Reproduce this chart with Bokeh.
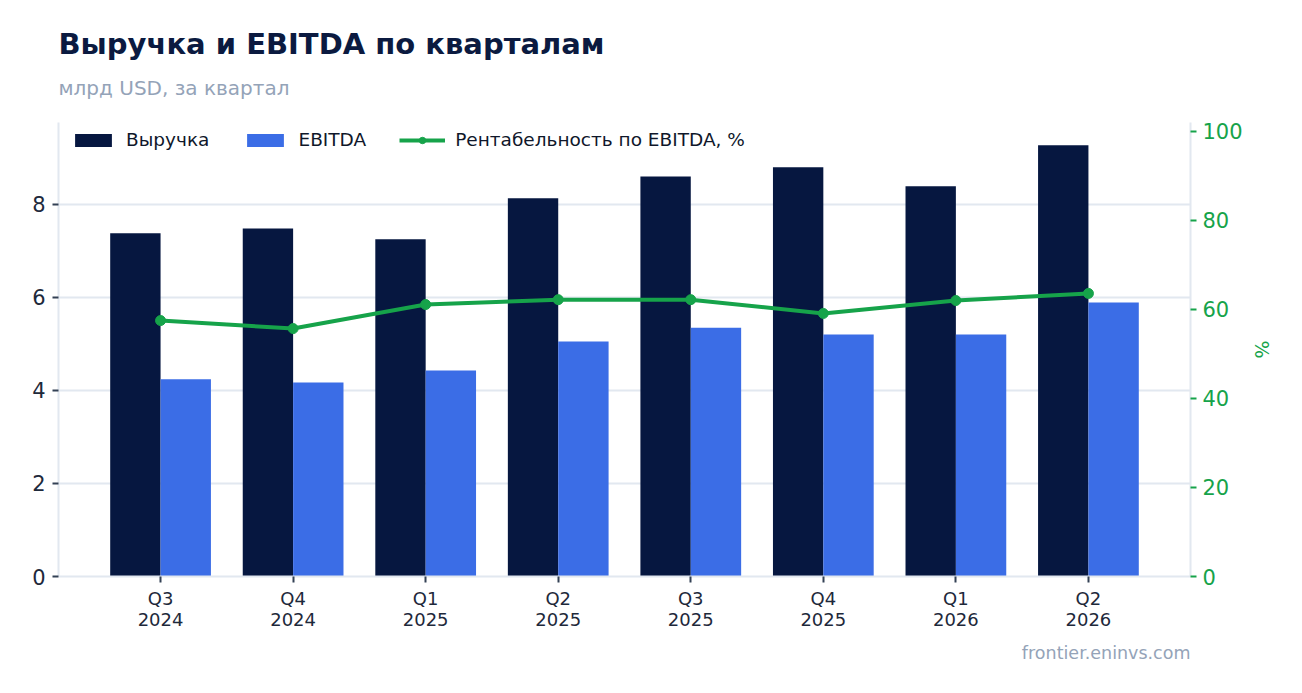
from bokeh.plotting import figure
from bokeh.models import (Range1d, LinearAxis, FixedTicker, Legend, LegendItem,
                          Title, ColumnDataSource)
from bokeh.embed import file_html
from bokeh.resources import INLINE

# ---- data ----
quarters = ["Q3\n2024", "Q4\n2024", "Q1\n2025", "Q2\n2025",
            "Q3\n2025", "Q4\n2025", "Q1\n2026", "Q2\n2026"]
revenue = [7.38, 7.48, 7.25, 8.13, 8.60, 8.80, 8.39, 9.27]
ebitda = [4.24, 4.17, 4.43, 5.05, 5.35, 5.20, 5.20, 5.89]
margin_pct = [57.5, 55.7, 61.1, 62.2, 62.2, 59.1, 62.0, 63.6]

# ---- style ----
FONT = "DejaVu Sans"
C_REV = "#061740"
C_EBITDA = "#3b6de6"
C_GREEN = "#16a34a"
C_GRID = "#e2e8f0"
C_MUTED = "#94a3b8"
C_TEXT = "#1e293b"
C_TITLE = "#0b1a40"

idx = list(range(len(quarters)))
src = ColumnDataSource(dict(
    x=idx,
    x_rev=[i - 0.19 for i in idx],
    x_eb=[i + 0.19 for i in idx],
    rev=revenue, eb=ebitda, m=margin_pct,
))

p = figure(width=1294, height=685, output_backend="svg", toolbar_location=None,
           x_range=Range1d(-0.77, 7.77), y_range=Range1d(0, 9.76),
           min_border_left=58, min_border_right=104,
           min_border_top=122, min_border_bottom=109,
           background_fill_color="white", border_fill_color="white")
p.outline_line_color = None

p.extra_y_ranges = {"pct": Range1d(0, 102)}

# bars
r_rev = p.vbar(x="x_rev", top="rev", width=0.38, source=src,
               fill_color=C_REV, line_color=None)
r_eb = p.vbar(x="x_eb", top="eb", width=0.38, source=src,
              fill_color=C_EBITDA, line_color=None)
# margin line
r_line = p.line(x="x", y="m", source=src, y_range_name="pct",
                line_color=C_GREEN, line_width=4)
r_pts = p.scatter(x="x", y="m", source=src, y_range_name="pct",
                  size=10, fill_color=C_GREEN, line_color=C_GREEN)

# x axis
xa = p.xaxis[0]
xa.ticker = FixedTicker(ticks=idx)
xa.major_label_overrides = {i: q for i, q in zip(idx, quarters)}
xa.axis_line_color = C_GRID
xa.axis_line_width = 2
xa.major_tick_line_color = "#334155"
xa.major_tick_line_width = 2
xa.major_tick_in = 0
xa.major_tick_out = 6
xa.minor_tick_line_color = None
xa.major_label_text_font = FONT
xa.major_label_text_font_size = "18px"
xa.major_label_text_line_height = 1.0
xa.major_label_text_color = C_TEXT
xa.major_label_standoff = 5

# left y axis
ya = p.yaxis[0]
ya.ticker = FixedTicker(ticks=[0, 2, 4, 6, 8])
ya.axis_line_color = C_GRID
ya.axis_line_width = 2
ya.major_tick_line_color = "#334155"
ya.major_tick_line_width = 2
ya.major_tick_in = 0
ya.major_tick_out = 6
ya.minor_tick_line_color = None
ya.major_label_text_font = FONT
ya.major_label_text_font_size = "21px"
ya.major_label_text_color = C_TEXT
ya.major_label_standoff = 7

# right y axis
ra = LinearAxis(y_range_name="pct", ticker=FixedTicker(ticks=[0, 20, 40, 60, 80, 100]),
                axis_label="%")
ra.axis_line_color = C_GRID
ra.axis_line_width = 2
ra.major_tick_line_color = C_GREEN
ra.major_tick_line_width = 2
ra.major_tick_in = 0
ra.major_tick_out = 6
ra.minor_tick_line_color = None
ra.major_label_text_font = FONT
ra.major_label_text_font_size = "21px"
ra.major_label_text_color = C_GREEN
ra.major_label_standoff = 6
ra.axis_label_text_font = FONT
ra.axis_label_text_font_size = "19px"
ra.axis_label_text_font_style = "normal"
ra.axis_label_text_color = C_GREEN
ra.axis_label_standoff = 5
p.add_layout(ra, "right")

# grid
p.xgrid.grid_line_color = None
p.ygrid.grid_line_color = C_GRID
p.ygrid.grid_line_width = 2
p.ygrid.ticker = FixedTicker(ticks=[2, 4, 6, 8])

# legend
legend = Legend(items=[
    LegendItem(label="Выручка", renderers=[r_rev]),
    LegendItem(label="EBITDA", renderers=[r_eb]),
    LegendItem(label="Рентабельность по EBITDA, %", renderers=[r_line, r_pts]),
], orientation="horizontal", location=(12, 426))
legend.border_line_color = None
legend.background_fill_alpha = 0
legend.padding = 7
legend.margin = 0
legend.spacing = 33
legend.label_standoff = 10
legend.glyph_width = 46
legend.glyph_height = 16
legend.label_height = 20
legend.label_text_font = FONT
legend.label_text_font_size = "18.5px"
legend.label_text_color = "#0f172a"
p.add_layout(legend, "center")

# titles
sub = Title(text="млрд USD, за квартал", align="left", text_font=FONT,
            text_font_size="20px", text_font_style="normal", text_color=C_MUTED,
            standoff=46)
p.add_layout(sub, "above")
main = Title(text="Выручка и EBITDA по кварталам", align="left", text_font=FONT,
             text_font_size="29px", text_font_style="bold", text_color=C_TITLE,
             standoff=-21)
p.add_layout(main, "above")

foot = Title(text="frontier.eninvs.com", align="right", text_font=FONT,
             text_font_size="17.5px", text_font_style="normal", text_color=C_MUTED,
             standoff=16)
p.add_layout(foot, "below")

open("out.html", "w").write(file_html(p, INLINE))
